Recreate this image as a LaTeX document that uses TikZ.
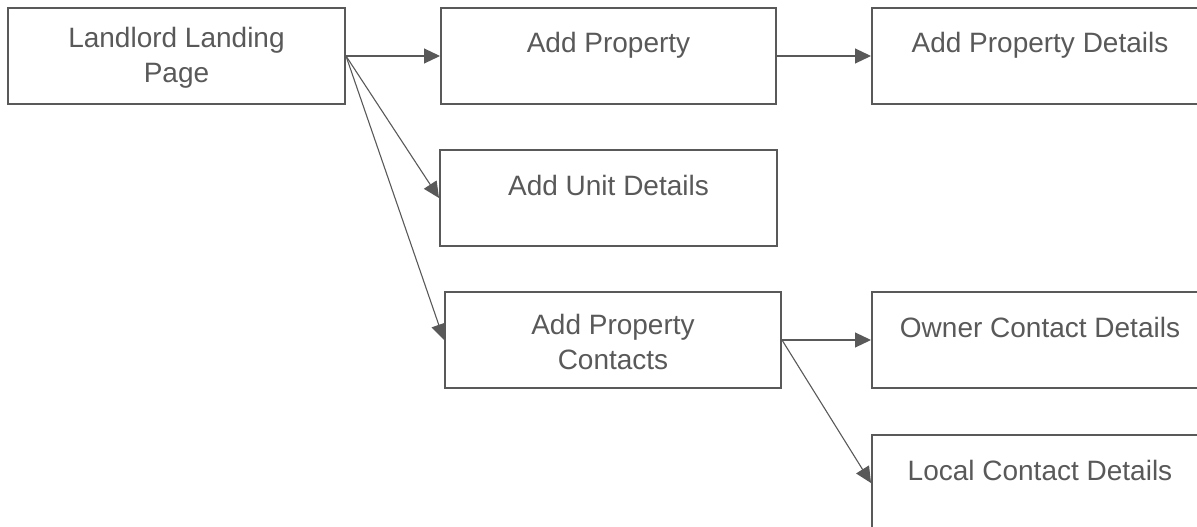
\documentclass[tikz,border=0pt]{standalone}
\usepackage{fontspec}
\setmainfont{Liberation Sans}
\usetikzlibrary{arrows.meta}
\definecolor{gc}{HTML}{595959}
\begin{document}
\begin{tikzpicture}[x=1pt,y=-1pt,
  box/.style={draw=gc, line width=2pt, minimum width=#1, minimum height=96pt, inner sep=0pt, anchor=north west},
  box/.default=336pt,
  txt/.style={text=gc, font=\fontsize{28}{35}\selectfont, inner sep=0pt, align=center},
  arr/.style={draw=gc, line width=1.1pt, -{Triangle[length=16pt,width=15pt]}}
]
\path[use as bounding box, clip] (0,0) rectangle (1197,527);
\node[box=337pt] (ll) at (7,7) {};
\node[box=335pt] (ap) at (440,7) {};
\node[box] (apd) at (871,7) {};
\node[box=337pt] (unit) at (439,149) {};
\node[box] (apc) at (444,291) {};
\node[box] (owner) at (871,291) {};
\node[box] (local) at (871,434) {};

\node[txt, anchor=center] (llt) at ([yshift=-1.5pt]ll.center) {Landlord Landing\\Page};
\node[txt, anchor=base] (apt) at ([yshift=-46pt]ap.north) {Add Property};
\node[txt, anchor=base] (apdt) at ([yshift=-46pt]apd.north) {Add Property Details};
\node[txt, anchor=base] (unitt) at ([yshift=-46pt]unit.north) {Add Unit Details};
\node[txt, anchor=center] (apct) at ([yshift=-1.5pt]apc.center) {Add Property\\Contacts};
\node[txt, anchor=base] (ownert) at ([yshift=-46pt]owner.north) {Owner Contact Details};
\node[txt, anchor=base] (localt) at ([yshift=-46pt]local.north) {Local Contact Details};

\draw[arr] (ll.east) -- (ap.west);
\draw[arr] (ll.east) -- (unit.west);
\draw[arr] (ll.east) -- (apc.west);
\draw[arr] (ap.east) -- (apd.west);
\draw[arr] (apc.east) -- (owner.west);
\draw[arr] (apc.east) -- (local.west);
\end{tikzpicture}
\end{document}
